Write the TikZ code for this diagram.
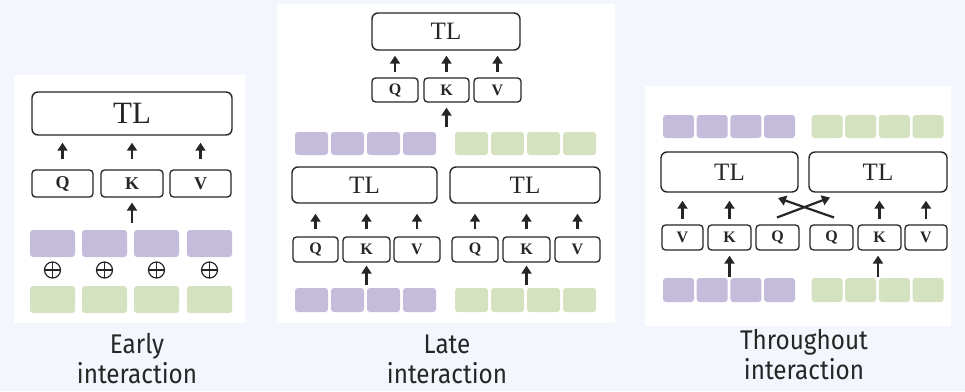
\documentclass[tikz,border=0pt]{standalone}
\usepackage{fontspec}
\setmainfont{Liberation Serif}
\newfontfamily\captionfont[FakeStretch=0.9]{Fira Sans}
\usetikzlibrary{arrows.meta}
\definecolor{pagebg}{HTML}{F3F7FD}
\definecolor{tokpurple}{HTML}{C5BCDB}
\definecolor{tokgreen}{HTML}{D4E2BF}
\definecolor{ink}{HTML}{262626}
\tikzset{
  box/.style 2 args={minimum width=#1, minimum height=#2, inner sep=0pt},
  panel/.style={fill=white, draw=none},
  tlbox/.style={draw=ink, line width=1.4pt, rounded corners=6pt, text=ink,
    font=\fontsize{#1}{#1}\selectfont},
  qkv/.style={draw=ink, line width=1.3pt, rounded corners=3.5pt, text=ink,
    font=\fontsize{#1}{#1}\selectfont\bfseries},
  tokp/.style={fill=tokpurple, rounded corners=3pt},
  tokg/.style={fill=tokgreen, rounded corners=3pt},
  oplus/.style={circle, draw=ink, line width=1.2pt, minimum size=16pt, inner sep=0pt,
    path picture={\draw[ink, line width=1.2pt]
      (path picture bounding box.north) -- (path picture bounding box.south)
      (path picture bounding box.west) -- (path picture bounding box.east);}},
  arr/.style={draw=ink, line width=2.2pt, -{Triangle[length=8pt,width=10pt]}},
  caption/.style={align=center, text=ink, font=\captionfont\fontsize{27}{30}\selectfont},
}
\begin{document}
\begin{tikzpicture}[x=1pt,y=-1pt]
  \fill[pagebg] (0,0) rectangle (965,391);
  \useasboundingbox (0,0) rectangle (965,391);

  % ---------------- Early interaction ----------------
  \fill[panel] (14,75) rectangle (245,323);
  \node[tlbox=31, box={200}{43}] (e-tl) at (132,113.5) {TL};
  \node[qkv=18, box={61}{27}] (e-q) at (62.5,183.5) {Q};
  \node[qkv=18, box={62}{27}] (e-k) at (132,183.5) {K};
  \node[qkv=18, box={61}{27}] (e-v) at (200.5,183.5) {V};
  \foreach \i/\x in {1/52.5,2/104.5,3/156.5,4/209.5} {
    \node[tokp, box={45}{27}] (e-p\i) at (\x,243.5) {};
    \node[oplus] (e-o\i) at (\x,270) {};
    \node[tokg, box={45}{27}] (e-g\i) at (\x,299.5) {};
  }
  \coordinate (e-in) at (132,230);
  \foreach \n in {q,k,v}
    \draw[arr, shorten <=10pt, shorten >=7pt] (e-\n.north) -- (e-\n.north |- e-tl.south);
  \draw[arr, shorten <=7pt, shorten >=5pt] (e-in) -- (e-k.south);
  \node[caption] (e-cap) at (137,359) {Early\\interaction};

  % ---------------- Late interaction ----------------
  \fill[panel] (277,4) rectangle (615,323);
  \node[tlbox=25, box={148}{37}] (l-tl) at (446,31.5) {TL};
  \node[qkv=16, box={46}{24}] (l-tq) at (395,90) {Q};
  \node[qkv=16, box={45}{24}] (l-tk) at (446.5,90) {K};
  \node[qkv=16, box={47}{24}] (l-tv) at (497.5,90) {V};
  \foreach \n in {tq,tk,tv}
    \draw[arr, shorten <=5pt, shorten >=5pt] (l-\n.north) -- (l-\n.north |- l-tl.south);
  \coordinate (l-mid) at (446.5,132);
  \draw[arr, shorten <=5pt, shorten >=5pt] (l-mid) -- (l-tk.south);
  \foreach \i in {1,...,4} {
    \node[tokp, box={33}{23}] (l-up\i) at ({311.5+36*(\i-1)},143.5) {};
    \node[tokg, box={33}{23}] (l-ug\i) at ({471.5+36*(\i-1)},143.5) {};
    \node[tokp, box={33}{24}] (l-bp\i) at ({311.5+36*(\i-1)},300) {};
    \node[tokg, box={33}{24}] (l-bg\i) at ({471.5+36*(\i-1)},300) {};
  }
  \node[tlbox=25, box={145}{36}] (l-tla) at (364.5,185) {TL};
  \node[tlbox=25, box={150}{36}] (l-tlb) at (525,185) {TL};
  \node[qkv=16, box={45}{25}] (l-qa) at (315.5,249.5) {Q};
  \node[qkv=16, box={47}{25}] (l-ka) at (366.5,249.5) {K};
  \node[qkv=16, box={46}{25}] (l-va) at (417,249.5) {V};
  \node[qkv=16, box={46}{25}] (l-qb) at (475,249.5) {Q};
  \node[qkv=16, box={47}{25}] (l-kb) at (526.5,249.5) {K};
  \node[qkv=16, box={45}{25}] (l-vb) at (577.5,249.5) {V};
  \foreach \n in {qa,ka,va}
    \draw[arr, shorten <=7pt, shorten >=10pt] (l-\n.north) -- (l-\n.north |- l-tla.south);
  \foreach \n in {qb,kb,vb}
    \draw[arr, shorten <=7pt, shorten >=10pt] (l-\n.north) -- (l-\n.north |- l-tlb.south);
  \coordinate (l-pin) at (366.5,288);
  \coordinate (l-gin) at (526.5,288);
  \draw[arr, shorten <=3pt, shorten >=3pt] (l-pin) -- (l-ka.south);
  \draw[arr, shorten <=3pt, shorten >=3pt] (l-gin) -- (l-kb.south);
  \node[caption] (l-cap) at (447,359) {Late\\interaction};

  % ---------------- Throughout interaction ----------------
  \fill[panel] (645,86) rectangle (951,326);
  \foreach \i in {1,...,4} {
    \node[tokp, box={31}{23}] (t-up\i) at ({678.5+33.7*(\i-1)},126.5) {};
    \node[tokg, box={31}{23}] (t-ug\i) at ({827+33.7*(\i-1)},126.5) {};
    \node[tokp, box={31}{24}] (t-bp\i) at ({678.5+33.7*(\i-1)},290) {};
    \node[tokg, box={31}{24}] (t-bg\i) at ({827+33.7*(\i-1)},290) {};
  }
  \node[tlbox=25, box={137}{40}] (t-tla) at (729.5,172) {TL};
  \node[tlbox=25, box={138}{40}] (t-tlb) at (878,172) {TL};
  \node[qkv=16, box={41}{25}] (t-va) at (682.5,237.5) {V};
  \node[qkv=16, box={43}{25}] (t-ka) at (729.5,237.5) {K};
  \node[qkv=16, box={43}{25}] (t-qa) at (777.5,237.5) {Q};
  \node[qkv=16, box={43}{25}] (t-qb) at (831.5,237.5) {Q};
  \node[qkv=16, box={43}{25}] (t-kb) at (879.5,237.5) {K};
  \node[qkv=16, box={42}{25}] (t-vb) at (926,237.5) {V};
  \foreach \n in {va,ka}
    \draw[arr, shorten <=5pt, shorten >=8pt] (t-\n.north) -- (t-\n.north |- t-tla.south);
  \foreach \n in {kb,vb}
    \draw[arr, shorten <=5pt, shorten >=8pt] (t-\n.north) -- (t-\n.north |- t-tlb.south);
  % crossed query paths
  \coordinate (t-xa0) at (777,217.5);
  \coordinate (t-xa1) at (830,197.5);
  \coordinate (t-xb0) at (834,217.5);
  \coordinate (t-xb1) at (778,198);
  \draw[arr] (t-xa0) -- (t-xa1);
  \draw[arr] (t-xb0) -- (t-xb1);
  \coordinate (t-pin) at (729.5,278);
  \coordinate (t-gin) at (878,278);
  \draw[arr, shorten <=1pt, shorten >=5pt] (t-pin) -- (t-ka.south);
  \draw[arr, shorten <=1pt, shorten >=5pt] (t-gin) -- (t-kb.south -| t-gin);
  \node[caption] (t-cap) at (804,355) {Throughout\\interaction};
\end{tikzpicture}
\end{document}
